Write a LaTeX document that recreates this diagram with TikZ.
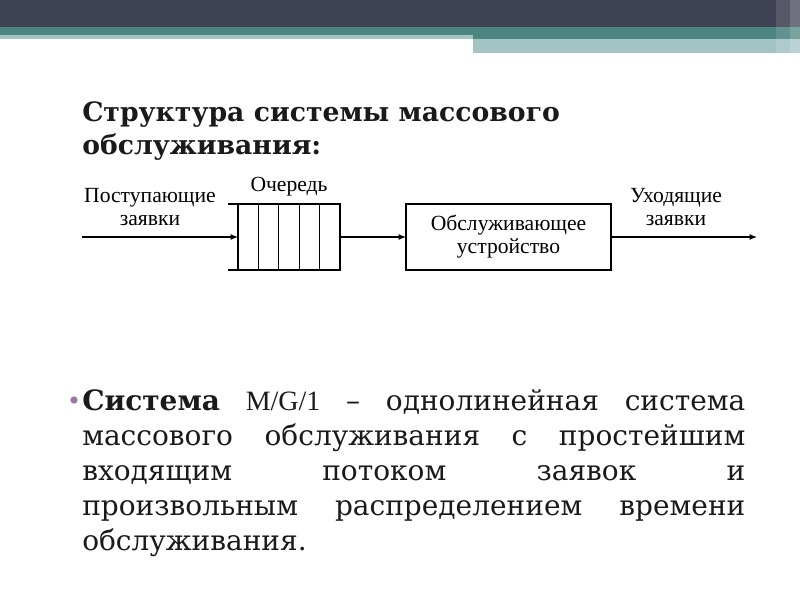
\documentclass[tikz,border=0pt]{standalone}
\usepackage{fontspec}
\setmainfont{DejaVu Serif}
\newfontfamily\labelfont{Liberation Serif}
\usetikzlibrary{positioning}
\usetikzlibrary{chains}
\usetikzlibrary{arrows.meta}

\definecolor{headdark}{HTML}{3F4254}
\definecolor{headteal}{HTML}{4A8580}
\definecolor{headlight}{HTML}{A3C3C5}
\definecolor{bulletpurple}{HTML}{9A78A8}
\definecolor{textblack}{HTML}{1A1A1A}

\begin{document}
\begin{tikzpicture}[x=0.75pt,y=-0.75pt,start chain=1 going right]
  \tikzstyle{abox}=[draw,line width=0.9pt,outer sep=0pt,minimum width=15.3pt,minimum height=49.5pt,inner sep=0pt]
  \tikzstyle{bigbox}=[draw,line width=0.9pt,outer sep=0pt,minimum width=153.75pt,minimum height=49.5pt,align=center,font=\labelfont\fontsize{16.2}{17.25}\selectfont]
  \tikzstyle{lbl}=[align=center,inner sep=0pt,font=\labelfont\fontsize{16.2}{17.25}\selectfont]
  \tikzstyle{boxchain}=[node distance=0pt]
  \tikzstyle{arrowline}=[draw,line width=0.9pt,-{Latex[length=5.5pt,width=4.5pt]}]
  \def\openend{7.5pt}

  \useasboundingbox (0,0) rectangle (800,600);

  % header bands
  \fill[headdark] (0,0) rectangle (800,27);
  \fill[headteal] (0,27) rectangle (800,35);
  \fill[headteal] (473,35) rectangle (800,39);
  \fill[headlight] (0,35) rectangle (473,39);
  \fill[headlight] (473,39) rectangle (800,53);
  \fill[white,opacity=0.12] (776,0) rectangle (790,53);
  \fill[white,opacity=0.25] (790,0) rectangle (800,53);

  % title
  \node[anchor=north west,inner sep=0pt,align=left,text=textblack,
    font=\bfseries\fontsize{20}{24.75}\selectfont] (title) at (82,101)
    {Структура системы массового\\обслуживания:};

  % queue
  \begin{scope}[boxchain]
    \node [on chain=1, abox] (q1) at (248.2,237) {};
    \node [on chain=1, abox] (q2) {};
    \node [on chain=1, abox] (q3) {};
    \node [on chain=1, abox] (q4) {};
    \node [on chain=1, abox] (q5) {};
  \end{scope}
  \draw[line width=0.9pt] ([xshift=-\openend]q1.north west) -- (q1.north west);
  \draw[line width=0.9pt] ([xshift=-\openend]q1.south west) -- (q1.south west);
  \node [lbl,above=6pt of q3] (qname) {Очередь};

  \node [bigbox,right=49.5pt of q5] (srv) {Обслуживающее\\устройство};

  \coordinate (src) at (82,237);
  \coordinate (dst) at (757,237);

  \node [lbl] (inname) at (150,207) {Поступающие\\заявки};
  \node [lbl] (outname) at (676,207) {Уходящие\\заявки};

  \path [arrowline] (src) -- (q1.west);
  \path [arrowline] (q5.east) -- (srv.west);
  \path [arrowline] (srv.east) -- (dst);

  % bullet text
  \node[circle,fill=bulletpurple,inner sep=0pt,minimum size=5.5pt] (dot) at (74,400) {};
  \node[anchor=north west,inner sep=0pt,text width=497.25pt,align=justify,text=textblack,
    font=\fontsize{21}{26.25}\selectfont] (body) at (82,389)
    {\textbf{Система} {\labelfont M/G/1} – однолинейная система\linebreak
     массового обслуживания с простейшим\linebreak
     входящим потоком заявок и\linebreak
     произвольным распределением времени\linebreak
     обслуживания.};
\end{tikzpicture}
\end{document}
